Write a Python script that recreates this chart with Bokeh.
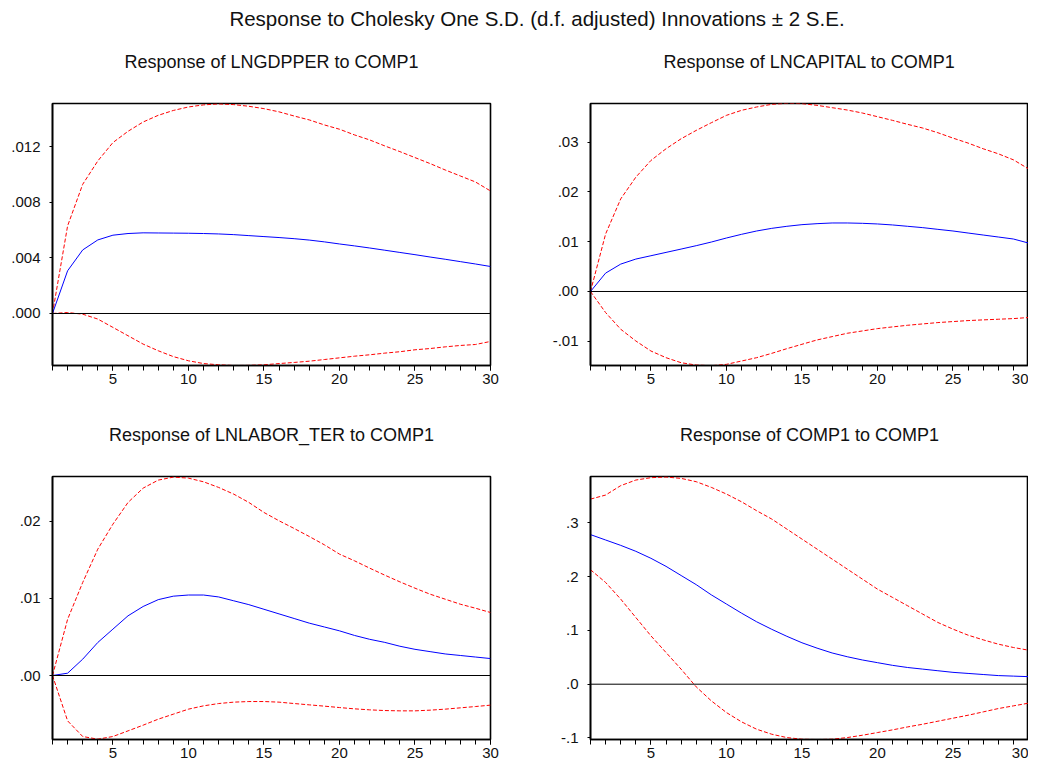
from bokeh.plotting import figure
from bokeh.models import Range1d, FixedTicker, CustomJSTickFormatter, Div, Span, Title
from bokeh.layouts import column, row
from bokeh.embed import file_html
from bokeh.resources import INLINE

periods = list(range(1, 31))
x_ticks = [5, 10, 15, 20, 25, 30]

main_title = "Response to Cholesky One S.D. (d.f. adjusted) Innovations \u00b1 2 S.E."

titles = ["Response of LNGDPPER to COMP1", "Response of LNCAPITAL to COMP1",
          "Response of LNLABOR_TER to COMP1", "Response of COMP1 to COMP1"]

# Panel 1: LNGDPPER
gdp_resp = [0.0, 0.00307, 0.00457, 0.00529, 0.00563, 0.00575, 0.0058, 0.00579, 0.00578, 0.00577,
            0.00575, 0.00572, 0.00567, 0.0056, 0.00553, 0.00546, 0.00538, 0.00528, 0.00515, 0.0050,
            0.00486, 0.00471, 0.00455, 0.00439, 0.00423, 0.00406, 0.0039, 0.00373, 0.00356, 0.00338]
gdp_up = [0.0, 0.0063, 0.00929, 0.01097, 0.01229, 0.0131, 0.01377, 0.01425, 0.0146, 0.01485,
          0.015, 0.01507, 0.01502, 0.0149, 0.01473, 0.0145, 0.0142, 0.01392, 0.01356, 0.01325,
          0.01284, 0.01248, 0.01205, 0.01164, 0.01121, 0.01078, 0.01032, 0.00989, 0.00946, 0.00881]
gdp_lo = [0.0, 0.00007, -0.00005, -0.0004, -0.001, -0.0016, -0.0022, -0.00268, -0.0031, -0.0034,
          -0.0036, -0.00369, -0.00374, -0.00373, -0.00369, -0.0036, -0.00352, -0.00343, -0.00331, -0.00319,
          -0.00307, -0.00297, -0.00285, -0.00275, -0.00261, -0.00252, -0.0024, -0.0023, -0.00223, -0.00201]

# Panel 2: LNCAPITAL
cap_resp = [0.0, 0.00369, 0.0055, 0.00651, 0.00718, 0.00785, 0.00852, 0.0092, 0.00993, 0.01074,
            0.01148, 0.01215, 0.01268, 0.01309, 0.01342, 0.01362, 0.01376, 0.01376, 0.01369, 0.01356,
            0.01336, 0.01309, 0.01282, 0.01248, 0.01215, 0.01174, 0.01134, 0.01094, 0.01054, 0.00973]
cap_up = [0.0, 0.01154, 0.01859, 0.02295, 0.02631, 0.02866, 0.03067, 0.03235, 0.03389, 0.03537,
          0.03638, 0.03705, 0.03758, 0.03779, 0.03772, 0.03738, 0.03691, 0.03644, 0.03584, 0.0351,
          0.03436, 0.03356, 0.03282, 0.03188, 0.0308, 0.0298, 0.02866, 0.02765, 0.02644, 0.02463]
cap_lo = [0.0, -0.00423, -0.00758, -0.00993, -0.01195, -0.01329, -0.0143, -0.01477, -0.0149, -0.01463,
          -0.01396, -0.01329, -0.01242, -0.01148, -0.0106, -0.00973, -0.00906, -0.00839, -0.00792, -0.00745,
          -0.00711, -0.00678, -0.00651, -0.00624, -0.00604, -0.00584, -0.0057, -0.00557, -0.00544, -0.00523]

# Panel 3: LNLABOR_TER
lab_resp = [0.0, 0.0003, 0.00212, 0.00429, 0.00602, 0.00775, 0.00896, 0.00985, 0.0103, 0.01045,
            0.01045, 0.0102, 0.0097, 0.0092, 0.0086, 0.0080, 0.0074, 0.0068, 0.0063, 0.0058,
            0.0052, 0.0047, 0.0043, 0.0038, 0.0034, 0.0031, 0.0028, 0.0026, 0.0024, 0.0022]
lab_up = [0.0, 0.0073, 0.01208, 0.01641, 0.01965, 0.02247, 0.02433, 0.02537, 0.02576, 0.02563,
          0.02515, 0.02442, 0.02355, 0.02247, 0.02117, 0.02009, 0.01909, 0.01805, 0.01697, 0.01576,
          0.01489, 0.01394, 0.01303, 0.01216, 0.01134, 0.01056, 0.00991, 0.00926, 0.00874, 0.00818]
lab_lo = [0.0, -0.00589, -0.00792, -0.00827, -0.00792, -0.00719, -0.00645, -0.00567, -0.00502, -0.00437,
          -0.00394, -0.00364, -0.00346, -0.00338, -0.00338, -0.00346, -0.00364, -0.00381, -0.00398, -0.00416,
          -0.00433, -0.00446, -0.00455, -0.00459, -0.00459, -0.0045, -0.00437, -0.0042, -0.00403, -0.00385]

# Panel 4: COMP1
comp_resp = [0.278, 0.268, 0.258, 0.247, 0.234, 0.219, 0.202, 0.185, 0.166, 0.149,
             0.132, 0.116, 0.102, 0.089, 0.077, 0.067, 0.058, 0.051, 0.045, 0.040,
             0.035, 0.031, 0.028, 0.025, 0.022, 0.020, 0.018, 0.016, 0.015, 0.014]
comp_up = [0.344, 0.3515, 0.369, 0.3794, 0.3838, 0.385, 0.3825, 0.3763, 0.3658, 0.3534,
           0.339, 0.3224, 0.3069, 0.2883, 0.2697, 0.2511, 0.2325, 0.2139, 0.1953, 0.1767,
           0.1612, 0.1457, 0.1302, 0.1147, 0.1023, 0.0911, 0.0824, 0.0744, 0.0682, 0.0632]
comp_lo = [0.2127, 0.1891, 0.1581, 0.124, 0.0899, 0.0589, 0.0279, -0.005, -0.031, -0.0527,
           -0.07, -0.0837, -0.093, -0.0992, -0.1023, -0.1029, -0.1023, -0.0992, -0.0949, -0.0899,
           -0.0849, -0.0794, -0.0744, -0.0688, -0.0632, -0.0577, -0.0515, -0.0453, -0.0403, -0.0353]

y_ticks = [[0.0, 0.004, 0.008, 0.012], [-0.01, 0.0, 0.01, 0.02, 0.03],
           [0.0, 0.01, 0.02], [-0.1, 0.0, 0.1, 0.2, 0.3]]
y_decimals = [3, 2, 2, 1]
y_ranges = [(-0.00374, 0.0151), (-0.01486, 0.03775), (-0.00831, 0.02584), (-0.1028, 0.386)]

series = [(gdp_resp, gdp_up, gdp_lo), (cap_resp, cap_up, cap_lo),
          (lab_resp, lab_up, lab_lo), (comp_resp, comp_up, comp_lo)]

FONT = "Liberation Sans"


def make_panel(i, left, right, top, bottom, frame_h):
    p = figure(frame_width=438, frame_height=frame_h, output_backend="svg",
               toolbar_location=None, x_range=Range1d(1, 30),
               y_range=Range1d(*y_ranges[i]), title=None,
               min_border_left=left, min_border_right=right,
               min_border_top=top, min_border_bottom=bottom)
    # spacer keeps the subtitle well above the frame
    p.add_layout(Title(text=" ", text_font_size="13px"), "above")
    p.add_layout(Title(text=titles[i], align="center", text_font=FONT,
                       text_font_size="18px", text_font_style="normal",
                       text_color="#111111"), "above")
    p.grid.visible = False
    p.outline_line_color = "black"
    p.outline_line_width = 1.6
    p.background_fill_color = "white"
    p.border_fill_color = "white"

    xa = p.xaxis[0]
    xa.ticker = FixedTicker(ticks=x_ticks, minor_ticks=periods)
    xa.major_tick_out = 5
    xa.major_tick_in = 0
    xa.minor_tick_out = 5
    xa.minor_tick_in = 0
    xa.major_label_standoff = 3
    xa.axis_line_color = "black"
    xa.axis_line_width = 1.6
    xa.major_label_text_font = FONT
    xa.major_label_text_font_size = "15px"
    xa.major_label_text_color = "#111111"

    ya = p.yaxis[0]
    ya.ticker = FixedTicker(ticks=y_ticks[i], minor_ticks=[])
    ya.formatter = CustomJSTickFormatter(
        args=dict(d=y_decimals[i]),
        code="var s = tick.toFixed(d); return s.replace(/^(-?)0\\./, '$1.');")
    ya.major_tick_out = 3
    ya.major_tick_in = 0
    ya.minor_tick_out = 0
    ya.minor_tick_in = 0
    ya.major_label_standoff = 9
    ya.axis_line_color = "black"
    ya.axis_line_width = 1.6
    ya.major_label_text_font = FONT
    ya.major_label_text_font_size = "15px"
    ya.major_label_text_color = "#111111"

    p.add_layout(Span(location=0, dimension="width", line_color="black", line_width=1))

    resp, up, lo = series[i]
    p.line(periods, up, line_color="#ff0000", line_width=1, line_dash="4 2")
    p.line(periods, lo, line_color="#ff0000", line_width=1, line_dash="4 2")
    p.line(periods, resp, line_color="#0000ff", line_width=1)
    return p


p1 = make_panel(0, 52, 22, 63, 37, 262)
p2 = make_panel(1, 78, 0, 63, 37, 262)
p3 = make_panel(2, 52, 22, 74, 22, 263)
p4 = make_panel(3, 78, 0, 74, 22, 263)

header = Div(text=main_title, width=1024, height=30,
             styles={"text-align": "center", "font-family": FONT,
                     "font-size": "20.5px", "color": "#111111",
                     "line-height": "28px", "text-indent": "40px",
                     "width": "1024px"})

layout = column(header, row(p1, p2), row(p3, p4))

open("out.html", "w").write(file_html(layout, INLINE))
